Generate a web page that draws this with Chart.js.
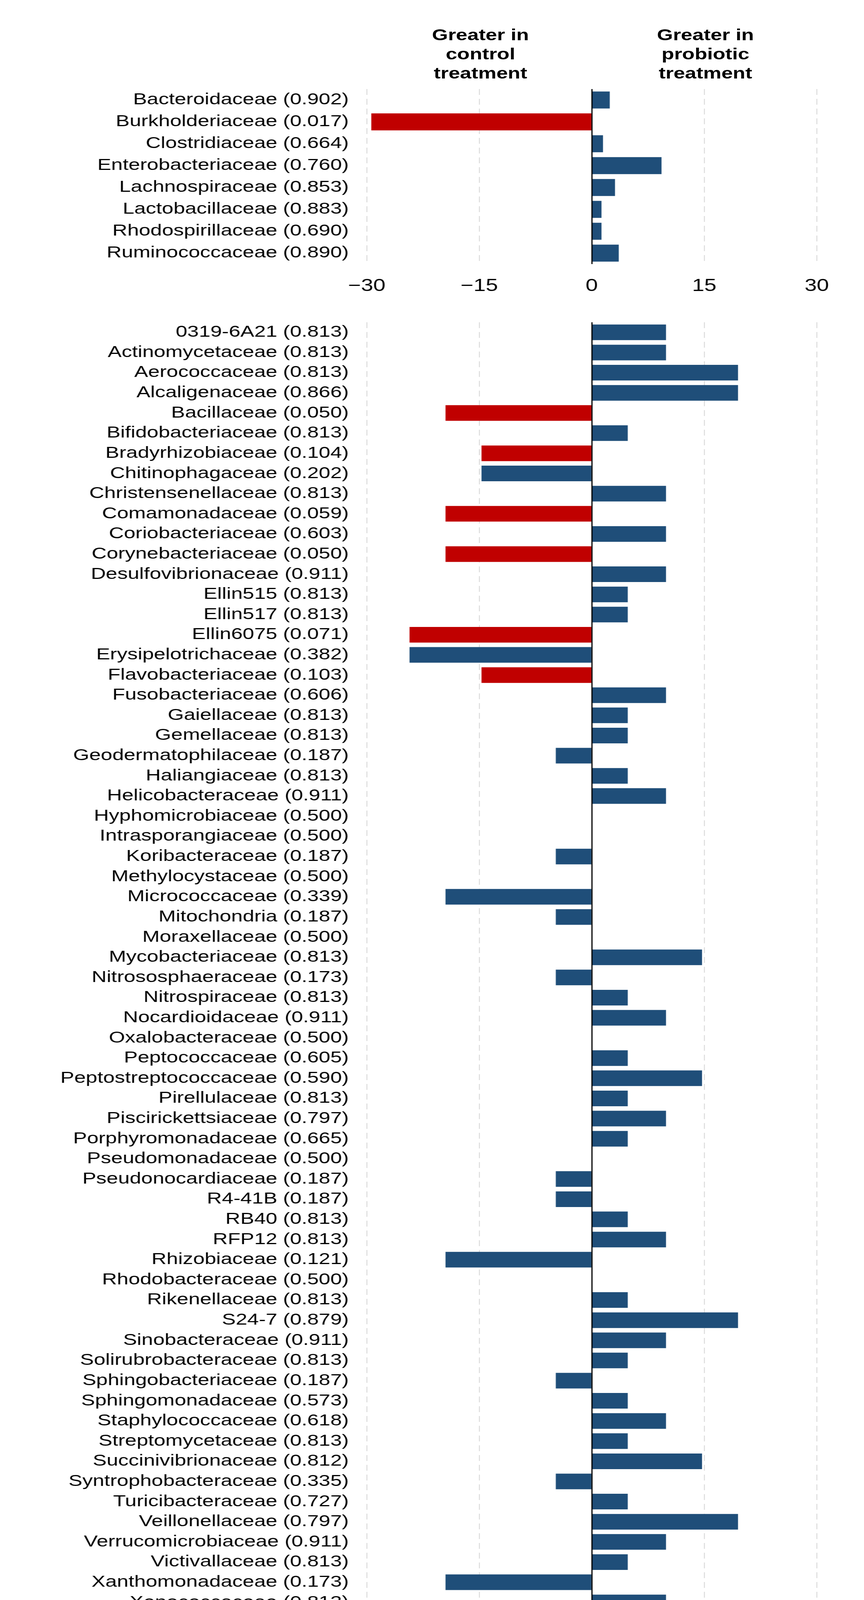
<!DOCTYPE html>
<html>
<head>
<meta charset="utf-8">
<script src="https://cdn.jsdelivr.net/npm/chart.js@4.4.1/dist/chart.umd.min.js"></script>
<style>
  html, body { margin: 0; padding: 0; background: #fff; }
  /* the figure is drawn narrower and stretched sideways, like the original */
  #page {
    position: relative; width: 1728px; height: 4625px;
    transform: scaleX(1.28); transform-origin: 0 0;
    font-family: "Liberation Sans", Arial, sans-serif; color: #000;
  }
  canvas { position: absolute; left: 0; }
  .head {
    position: absolute; top: 65px; width: 300px;
    font-weight: bold; font-size: 41px; line-height: 49px; text-align: center;
  }
  #xtitle {
    position: absolute; top: 4527px; left: 586px; width: 1000px;
    font-weight: bold; font-size: 51px; line-height: 51px; text-align: center;
  }
</style>
</head>
<body>
<div id="page">
  <div class="head" style="left:811px">Greater in<br>control<br>treatment</div>
  <div class="head" style="left:1261px">Greater in<br>probiotic<br>treatment</div>
  <canvas id="topChart" width="1728" height="600" style="top:200px"></canvas>
  <canvas id="bottomChart" width="1728" height="3835" style="top:790px"></canvas>
  <div id="xtitle">Change in abundance (∆), %</div>
</div>
<script>
// верхняя панель
const topFamilies = ['Bacteroidaceae', 'Burkholderiaceae', 'Clostridiaceae', 'Enterobacteriaceae',
  'Lachnospiraceae', 'Lactobacillaceae', 'Rhodospirillaceae', 'Ruminococcaceae'];
const topP = ['0.902', '0.017', '0.664', '0.760', '0.853', '0.883', '0.690', '0.890'];
const topChange = [2.4, -29.4, 1.5, 9.3, 3.1, 1.3, 1.3, 3.6];
const topTickValues = [-30, -15, 0, 15, 30];
const topTickLabels = ['−30', '−15', '0', '15', '30'];

// нижняя панель
const bottomFamilies = ['0319-6A21', 'Actinomycetaceae', 'Aerococcaceae', 'Alcaligenaceae', 'Bacillaceae',
  'Bifidobacteriaceae', 'Bradyrhizobiaceae', 'Chitinophagaceae', 'Christensenellaceae', 'Comamonadaceae',
  'Coriobacteriaceae', 'Corynebacteriaceae', 'Desulfovibrionaceae', 'Ellin515', 'Ellin517', 'Ellin6075',
  'Erysipelotrichaceae', 'Flavobacteriaceae', 'Fusobacteriaceae', 'Gaiellaceae', 'Gemellaceae',
  'Geodermatophilaceae', 'Haliangiaceae', 'Helicobacteraceae', 'Hyphomicrobiaceae', 'Intrasporangiaceae',
  'Koribacteraceae', 'Methylocystaceae', 'Micrococcaceae', 'Mitochondria', 'Moraxellaceae',
  'Mycobacteriaceae', 'Nitrososphaeraceae', 'Nitrospiraceae', 'Nocardioidaceae', 'Oxalobacteraceae',
  'Peptococcaceae', 'Peptostreptococcaceae', 'Pirellulaceae', 'Piscirickettsiaceae', 'Porphyromonadaceae',
  'Pseudomonadaceae', 'Pseudonocardiaceae', 'R4-41B', 'RB40', 'RFP12', 'Rhizobiaceae', 'Rhodobacteraceae',
  'Rikenellaceae', 'S24-7', 'Sinobacteraceae', 'Solirubrobacteraceae', 'Sphingobacteriaceae',
  'Sphingomonadaceae', 'Staphylococcaceae', 'Streptomycetaceae', 'Succinivibrionaceae',
  'Syntrophobacteraceae', 'Turicibacteraceae', 'Veillonellaceae', 'Verrucomicrobiaceae', 'Victivallaceae',
  'Xanthomonadaceae', 'Xenococcaceae', '[Barnesiellaceae]', '[Chthoniobacteraceae]', '[Entotheonellaceae]',
  '[Methanomassiliicoccaceae]', '[Paraprevotellaceae]'];
const bottomP = ['0.813', '0.813', '0.813', '0.866', '0.050', '0.813', '0.104', '0.202', '0.813', '0.059',
  '0.603', '0.050', '0.911', '0.813', '0.813', '0.071', '0.382', '0.103', '0.606', '0.813', '0.813',
  '0.187', '0.813', '0.911', '0.500', '0.500', '0.187', '0.500', '0.339', '0.187', '0.500', '0.813',
  '0.173', '0.813', '0.911', '0.500', '0.605', '0.590', '0.813', '0.797', '0.665', '0.500', '0.187',
  '0.187', '0.813', '0.813', '0.121', '0.500', '0.813', '0.879', '0.911', '0.813', '0.187', '0.573',
  '0.618', '0.813', '0.812', '0.335', '0.727', '0.797', '0.911', '0.813', '0.173', '0.813', '0.813',
  '0.187', '0.813', '0.813', '0.271'];
const bottomChange = [0.33, 0.33, 0.65, 0.65, -0.65, 0.16, -0.49, -0.49, 0.33, -0.65,
  0.33, -0.65, 0.33, 0.16, 0.16, -0.81, -0.81, -0.49, 0.33, 0.16, 0.16,
  -0.16, 0.16, 0.33, 0, 0, -0.16, 0, -0.65, -0.16, 0, 0.49,
  -0.16, 0.16, 0.33, 0, 0.16, 0.49, 0.16, 0.33, 0.16, 0, -0.16,
  -0.16, 0.16, 0.33, -0.65, 0, 0.16, 0.65, 0.33, 0.16, -0.16, 0.16,
  0.33, 0.16, 0.49, -0.16, 0.16, 0.65, 0.33, 0.16, -0.65, 0.33, 0.33,
  -0.16, 0.16, 0.16, -0.975];
const bottomTickValues = [-1, -0.5, 0, 0.5, 1];
const bottomTickLabels = ['−1.0', '−0.5', '0.0', '0.5', '1.0'];

// красным - семейства с p < 0.11
const RED_P = 0.11;
const RED = '#C00000';
const BLUE = '#1F4E79';
const FONT = '"Liberation Sans", Arial, sans-serif';

// нулевая линия поверх столбцов
const zeroLine = {
  id: 'zeroLine',
  afterDatasetsDraw(chart) {
    const x = Math.round(chart.scales.x.getPixelForValue(0));
    const ctx = chart.ctx;
    ctx.save();
    ctx.strokeStyle = '#000';
    ctx.lineWidth = 2.5;
    ctx.beginPath();
    ctx.moveTo(x, chart.chartArea.top);
    ctx.lineTo(x, chart.chartArea.bottom);
    ctx.stroke();
    ctx.restore();
  }
};

function drawPanel(id, families, pvals, values, tickValues, tickLabels, pad) {
  new Chart(document.getElementById(id), {
    type: 'bar',
    data: {
      labels: families.map((f, i) => f + ' (' + pvals[i] + ')'),
      datasets: [{
        data: values,
        backgroundColor: pvals.map(p => parseFloat(p) < RED_P ? RED : BLUE),
        barPercentage: 0.775,
        categoryPercentage: 1
      }]
    },
    options: {
      indexAxis: 'y',
      responsive: false,
      animation: false,
      devicePixelRatio: 1,
      layout: { padding: { top: pad.top, bottom: pad.bottom, left: 0, right: 94.4 } },
      plugins: { legend: { display: false }, tooltip: { enabled: false } },
      scales: {
        x: {
          type: 'linear',
          min: tickValues[0],
          max: tickValues[tickValues.length - 1],
          afterBuildTicks: s => { s.ticks = tickValues.map(v => ({ value: v })); },
          afterFit: s => { s.height = 100; },
          ticks: {
            color: '#000',
            font: { family: FONT, size: 44 },
            padding: pad.tick,
            maxRotation: 0,
            callback: v => tickLabels[tickValues.indexOf(v)]
          },
          grid: {
            drawTicks: false,
            color: c => (c.tick && c.tick.value === 0) ? 'rgba(0,0,0,0)' : '#d2d2d2',
            lineWidth: 1.6
          },
          border: { display: false, dash: [15, 10] }
        },
        y: {
          // фиксированная ширина, без лишних отступов сверху/снизу
          afterFit: s => { s.width = 733.6; s.paddingTop = 0; s.paddingBottom = 0; },
          ticks: {
            color: '#000',
            font: { family: FONT, size: 41.5 },
            padding: 36,
            autoSkip: false
          },
          grid: { display: false, drawTicks: false },
          border: { display: false }
        }
      }
    },
    plugins: [zeroLine]
  });
}

drawPanel('topChart', topFamilies, topP, topChange, topTickValues, topTickLabels,
  { top: 28, bottom: 24, tick: 30 });
drawPanel('bottomChart', bottomFamilies, bottomP, bottomChange, bottomTickValues, bottomTickLabels,
  { top: 35, bottom: 139, tick: 25 });
</script>
</body>
</html>
